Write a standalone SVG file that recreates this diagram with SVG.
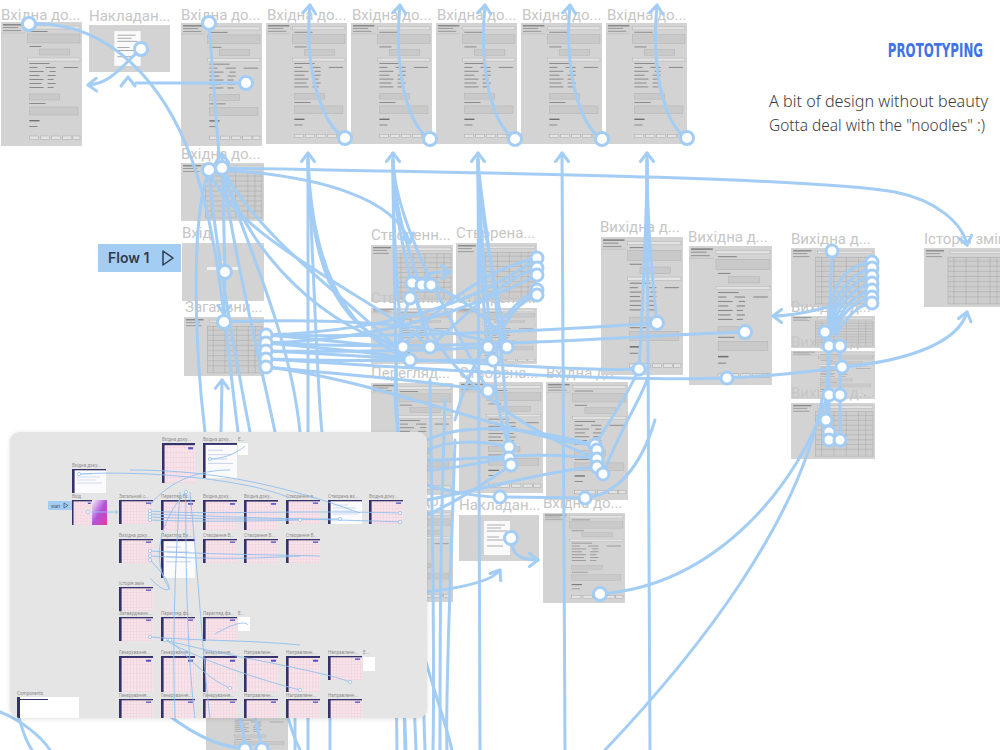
<svg xmlns="http://www.w3.org/2000/svg" xmlns:xlink="http://www.w3.org/1999/xlink" width="1000" height="750" viewBox="0 0 1000 750">
<style>
.t{font-family:"Roboto","Liberation Sans",sans-serif;font-size:15px;fill:#c6c6c6}
.mt{font-family:"Roboto","Liberation Sans",sans-serif;font-size:4.6px;fill:#8f8f8f}
.c{fill:none;stroke:#a3cdf4;stroke-width:3;stroke-linecap:round}
.dot{fill:#fff;stroke:#a3cdf4;stroke-width:3}
.mc{fill:none;stroke:#8fc0ef;stroke-width:0.9}
.bx{fill:#c9c9c9;stroke:#adadad;stroke-width:0.4}
.ln{fill:#8a8a8a}
</style>
<defs>
<marker id="ar" viewBox="0 0 12 16" refX="10" refY="8" markerWidth="12" markerHeight="16" markerUnits="userSpaceOnUse" orient="auto">
<path d="M1.5,1.5 L10,8 L1.5,14.5" fill="none" stroke="#a3cdf4" stroke-width="3" stroke-linecap="round" stroke-linejoin="round"/>
</marker>
<marker id="mar" viewBox="0 0 6 6" refX="5" refY="3" markerWidth="4" markerHeight="4" markerUnits="userSpaceOnUse" orient="auto">
<path d="M0.5,0.5 L5,3 L0.5,5.5" fill="none" stroke="#8fc0ef" stroke-width="1"/>
</marker>
<symbol id="form" viewBox="0 0 80 124" preserveAspectRatio="none">
<rect width="80" height="124" fill="#d3d3d3"/>
<rect x="2" y="2" width="21" height="1.6" class="ln"/>
<rect x="2" y="5" width="15" height="1.1" fill="#9b9b9b"/>
<rect x="2" y="8" width="18" height="1.1" fill="#9b9b9b"/>
<line x1="0" y1="11" x2="24" y2="11" stroke="#bcbcbc" stroke-width="0.6"/>
<rect x="26" y="4" width="52" height="3" fill="#e3e3e3" stroke="#aaa" stroke-width="0.4"/>
<rect x="28" y="9" width="18" height="1" class="ln"/>
<rect x="26" y="12" width="52" height="9" class="bx"/>
<rect x="28" y="24" width="12" height="1" class="ln"/>
<rect x="38" y="27" width="30" height="6" class="bx"/>
<rect x="26" y="36" width="52" height="3" fill="#e3e3e3" stroke="#aaa" stroke-width="0.4"/>
<rect x="28" y="41" width="20" height="1" class="ln"/>
<rect x="28" y="45" width="8" height="1" class="ln"/><rect x="44" y="45" width="10" height="1" class="ln"/><rect x="62" y="45" width="14" height="1" class="ln"/>
<rect x="28" y="49" width="14" height="1" class="ln"/><rect x="48" y="49" width="6" height="1" class="ln"/>
<rect x="28" y="53" width="10" height="1" class="ln"/><rect x="46" y="53" width="8" height="1" class="ln"/>
<rect x="28" y="57" width="14" height="1" class="ln"/><rect x="46" y="57" width="6" height="1" class="ln"/>
<rect x="28" y="61" width="12" height="1" class="ln"/><rect x="46" y="61" width="8" height="1" class="ln"/>
<rect x="28" y="65" width="14" height="1" class="ln"/><rect x="46" y="65" width="6" height="1" class="ln"/>
<rect x="28" y="72" width="30" height="6" class="bx"/>
<rect x="28" y="81" width="16" height="1" class="ln"/>
<rect x="28" y="85" width="48" height="8" class="bx"/>
<rect x="28" y="98" width="10" height="1.4" fill="#707070"/>
<rect x="28" y="104" width="8" height="1" class="ln"/>
<rect x="28" y="114" width="9" height="3.5" fill="#e3e3e3" stroke="#999" stroke-width="0.4"/>
<rect x="39" y="114" width="9" height="3.5" fill="#e3e3e3" stroke="#999" stroke-width="0.4"/>
<rect x="50" y="114" width="9" height="3.5" fill="#e3e3e3" stroke="#999" stroke-width="0.4"/>
<rect x="61" y="114" width="9" height="3.5" fill="#e3e3e3" stroke="#999" stroke-width="0.4"/>
<rect x="71" y="114" width="7" height="3.5" fill="#e3e3e3" stroke="#999" stroke-width="0.4"/>
</symbol>
<symbol id="tbl" viewBox="0 0 82 58" preserveAspectRatio="none">
<rect width="82" height="58" fill="#d3d3d3"/>
<rect x="2" y="2" width="18" height="1.4" class="ln"/>
<rect x="2" y="5" width="14" height="1" fill="#9b9b9b"/>
<rect x="2" y="8" width="16" height="1" fill="#9b9b9b"/>
<rect x="26" y="3" width="54" height="2.5" fill="#e3e3e3" stroke="#aaa" stroke-width="0.4"/>
<rect x="24" y="9" width="56" height="46" fill="#cdcdcd" stroke="#9e9e9e" stroke-width="0.4"/>
<path d="M24,13 H80 M24,18 H80 M24,23 H80 M24,28 H80 M24,33 H80 M24,38 H80 M24,43 H80 M24,48 H80 M30,9 V55 M42,9 V55 M54,9 V55 M66,9 V55 M73,9 V55" stroke="#9e9e9e" stroke-width="0.4" fill="none"/>
</symbol>
<symbol id="doc" viewBox="0 0 80 46" preserveAspectRatio="none">
<rect width="80" height="46" fill="#d3d3d3"/>
<rect x="25" y="6" width="26" height="34" fill="#fafafa"/>
<path d="M28,10 H46 M28,13 H42 M28,16 H48 M28,22 H40 M28,25 H47 M28,31 H44" stroke="#8a8a8a" stroke-width="0.7"/>
</symbol>
<pattern id="grid" width="3" height="3" patternUnits="userSpaceOnUse">
<rect width="3" height="3" fill="#f7e4ea"/>
<path d="M3,0 V3 M0,3 H3" stroke="#e8b7c7" stroke-width="0.4"/>
</pattern>
<symbol id="mf" viewBox="0 0 34 24" preserveAspectRatio="none">
<rect width="34" height="24" fill="url(#grid)"/>
<rect width="34" height="1.3" fill="#34306a"/>
<rect width="2.6" height="24" fill="#34306a"/>
<rect x="27" y="2.5" width="5" height="1.3" fill="#4a52c9"/>
</symbol>
<symbol id="mw" viewBox="0 0 34 24" preserveAspectRatio="none">
<rect width="34" height="24" fill="#fbfbfd"/>
<rect width="34" height="1.3" fill="#34306a"/>
<rect width="2.6" height="24" fill="#34306a"/>
<path d="M5,5 H20 M5,8 H28 M5,11 H24 M5,14 H30" stroke="#b9c6e6" stroke-width="0.6"/>
</symbol>
<linearGradient id="mag" x1="0" y1="0" x2="1" y2="1">
<stop offset="0" stop-color="#f5f0fb"/><stop offset="0.5" stop-color="#b055d8"/><stop offset="1" stop-color="#e63aa0"/>
</linearGradient>
<clipPath id="insetClip"><rect x="10" y="432" width="417" height="286" rx="9"/></clipPath>
<clipPath id="rightOfInset"><rect x="427" y="490" width="60" height="30"/></clipPath>
<filter id="sh" x="-5%" y="-5%" width="110%" height="110%"><feDropShadow dx="0" dy="1" stdDeviation="2" flood-color="#000" flood-opacity="0.12"/></filter>
</defs>
<rect width="1000" height="750" fill="#ffffff"/>

<g id="frames">
<g id="n1"><text class="t" x="1" y="20">Вхідна до...</text><use href="#form" x="1" y="22" width="81" height="124"/></g>
<g id="n2"><text class="t" x="89" y="21">Накладан...</text><use href="#doc" x="89" y="25" width="81" height="47"/></g>
<g id="n3"><text class="t" x="181" y="20">Вхідна до...</text><use href="#form" x="181" y="23" width="81" height="123"/></g>
<g id="n4"><text class="t" x="267" y="20">Вхідна до...</text><use href="#form" x="266" y="23" width="81" height="121"/></g>
<g id="n5"><text class="t" x="352" y="20">Вхідна до...</text><use href="#form" x="351" y="23" width="81" height="121"/></g>
<g id="n6"><text class="t" x="437" y="20">Вхідна до...</text><use href="#form" x="436" y="23" width="81" height="121"/></g>
<g id="n7"><text class="t" x="522" y="20">Вхідна до...</text><use href="#form" x="521" y="23" width="81" height="121"/></g>
<g id="n8"><text class="t" x="607" y="20">Вхідна до...</text><use href="#form" x="606" y="23" width="81" height="121"/></g>
<g id="n9"><text class="t" x="181" y="159">Вхідна до...</text><use href="#tbl" x="181" y="163" width="83" height="58"/></g>
<g id="n10"><text class="t" x="182" y="238">Вхід</text><rect x="182" y="243" width="82" height="58" fill="#d3d3d3"/><rect x="207" y="267" width="32" height="3" fill="#f2f2f2"/><rect x="220" y="261" width="6" height="1.5" fill="#eee"/><rect x="218" y="274" width="10" height="1.5" fill="#eee"/></g>
<g id="flow1"><rect x="98" y="244" width="83" height="28" fill="#a4cdf4"/><text x="108" y="263" font-family="Inter,'Liberation Sans',sans-serif" font-size="14" font-weight="600" fill="#2f3b4e">Flow 1</text><path d="M163,251 L173,258 L163,265 Z" fill="none" stroke="#2f3b4e" stroke-width="1.5" stroke-linejoin="round"/></g>
<g id="n11"><text class="t" x="185" y="312">Загальни...</text><use href="#tbl" x="184" y="317" width="80" height="59"/></g>
<g id="n12"><text class="t" x="371" y="240">Створенн...</text><use href="#tbl" x="371" y="245" width="82" height="57"/></g>
<g id="n13"><text class="t" x="456" y="238">Створена...</text><use href="#tbl" x="456" y="243" width="81" height="59"/></g>
<g id="n14"><text class="t" x="371" y="303">Створенн...</text><use href="#form" x="371" y="308" width="82" height="56"/></g>
<g id="n15"><text class="t" x="456" y="303">Створенн...</text><use href="#form" x="456" y="308" width="81" height="56"/></g>
<g id="n16"><text class="t" x="371" y="378">Перегляд...</text><use href="#form" x="371" y="383" width="82" height="112"/></g>
<g id="n17"><text class="t" x="371" y="506" clip-path="url(#rightOfInset)">Вхідна до...</text><use href="#form" x="371" y="510" width="82" height="92"/></g>
<g id="n18"><text class="t" x="459" y="378">Створена...</text><use href="#form" x="459" y="382" width="84" height="111"/></g>
<g id="n19"><text class="t" x="546" y="378">Вхідна до...</text><use href="#form" x="546" y="382" width="82" height="118"/></g>
<g id="n20"><text class="t" x="459" y="510">Накладан...</text><use href="#doc" x="459" y="515" width="80" height="46"/></g>
<g id="n21"><text class="t" x="543" y="508">Вхідна до...</text><use href="#form" x="543" y="513" width="82" height="90"/></g>
<g id="n22"><text class="t" x="600" y="232">Вихідна д...</text><use href="#form" x="601" y="237" width="82" height="138"/></g>
<g id="n23"><text class="t" x="688" y="242">Вихідна д...</text><use href="#form" x="689" y="246" width="83" height="139"/></g>
<g id="n24"><text class="t" x="791" y="244">Вихідна д...</text><use href="#tbl" x="791" y="248" width="84" height="59"/></g>
<g id="n25"><text class="t" x="791" y="312">Вихідна д...</text><use href="#tbl" x="791" y="316" width="84" height="32"/></g>
<g id="n26"><text class="t" x="791" y="347">Вихідна д...</text><use href="#form" x="791" y="351" width="84" height="48"/></g>
<g id="n27"><text class="t" x="791" y="398">Вихідна д...</text><use href="#tbl" x="791" y="403" width="84" height="56"/></g>
<g id="n28"><text class="t" x="924" y="244">Історія змін</text><use href="#tbl" x="924" y="248" width="82" height="59"/></g>
<g id="n29"><use href="#form" x="206" y="700" width="82" height="60"/></g>
</g>

<g id="connectors">
<path class="c" d="M29,24 C110,20 165,85 192,160 S225,330 238,432"/>
<path class="c" d="M141,49 C125,62 112,84 88,85" marker-end="url(#ar)"/>
<path class="c" d="M246,83 L136,83"/>
<path class="c" d="M121,86 L128,77 L135,86" stroke-linejoin="round"/>
<path class="c" d="M209,23 L219,156"/>
<path class="c" d="M345,138 C322,125 304,70 310,5" marker-end="url(#ar)"/>
<path class="c" d="M430,139 C407,125 394,70 400,5" marker-end="url(#ar)"/>
<path class="c" d="M515,139 C492,125 479,70 485,5" marker-end="url(#ar)"/>
<path class="c" d="M602,139 C579,125 564,70 570,5" marker-end="url(#ar)"/>
<path class="c" d="M687,138 C664,125 651,70 657,5" marker-end="url(#ar)"/>
<path class="c" d="M308,750 L308,153" marker-end="url(#ar)"/>
<path class="c" d="M308,160 C310,250 330,330 403,347"/>
<path class="c" d="M308,160 C312,260 340,330 410,360"/>
<path class="c" d="M308,160 C315,300 318,400 322,432"/>
<path class="c" d="M405,750 C400,500 393,300 393,153" marker-end="url(#ar)"/>
<path class="c" d="M420,285 C405,240 393,200 393,160"/>
<path class="c" d="M403,347 C395,280 393,200 393,160"/>
<path class="c" d="M430,347 C400,250 393,200 393,160"/>
<path class="c" d="M488,391 C440,300 395,220 393,160"/>
<path class="c" d="M480,750 C480,500 478,300 478,153" marker-end="url(#ar)"/>
<path class="c" d="M488,347 C480,280 478,200 478,160"/>
<path class="c" d="M507,347 C490,260 478,200 478,160"/>
<path class="c" d="M493,360 C485,280 478,200 478,160"/>
<path class="c" d="M509,447 C500,300 480,200 478,160"/>
<path class="c" d="M565,750 L562,153" marker-end="url(#ar)"/>
<path class="c" d="M650,750 C649,500 647,300 647,153" marker-end="url(#ar)"/>
<path class="c" d="M657,323 C650,260 647,200 647,160"/>
<path class="c" d="M639,369 C645,260 647,200 647,160"/>
<path class="c" d="M222,168 C420,172 800,176 895,192 C935,200 962,222 967,245" marker-end="url(#ar)"/>
<path class="c" d="M222,170 C320,176 395,198 410,243" marker-end="url(#ar)"/>
<path class="c" d="M225,272 L222,154" marker-end="url(#ar)"/>
<path class="c" d="M225,272 L224,314" marker-end="url(#ar)"/>
<path class="c" d="M221,432 L222,380" marker-end="url(#ar)"/>
<path class="c" d="M209,170 C215,250 240,380 250,432"/>
<path class="c" d="M222,168 C250,260 330,330 403,347"/>
<path class="c" d="M222,168 C260,240 350,300 410,360"/>
<path class="c" d="M209,170 C235,240 380,300 430,347"/>
<path class="c" d="M222,168 C240,230 290,330 300,432"/>
<path class="c" d="M209,170 C190,220 195,350 205,432"/>
<path class="c" d="M222,168 C235,260 260,360 275,432"/>
<path class="c" d="M266,335 C400,338 560,330 657,323"/>
<path class="c" d="M266,343 C450,352 620,336 745,332"/>
<path class="c" d="M266,351 C420,358 560,372 639,369"/>
<path class="c" d="M266,359 C420,368 600,382 727,378"/>
<path class="c" d="M266,367 C380,380 520,440 595,445"/>
<path class="c" d="M266,335 C330,340 380,347 403,347"/>
<path class="c" d="M266,343 C340,350 400,355 410,360"/>
<path class="c" d="M266,351 C350,352 440,350 488,347"/>
<path class="c" d="M266,359 C360,362 450,360 493,360"/>
<path class="c" d="M266,367 C350,375 420,380 488,391"/>
<path class="c" d="M224,322 C330,318 430,322 507,347"/>
<path class="c" d="M266,335 C400,330 480,300 537,258"/>
<path class="c" d="M266,343 C380,340 470,310 537,275"/>
<path class="c" d="M537,268 C500,280 460,320 430,347"/>
<path class="c" d="M537,290 C505,305 470,360 455,420"/>
<path class="c" d="M537,295 C500,310 480,360 509,447"/>
<path class="c" d="M537,258 C500,265 440,300 403,347"/>
<path class="c" d="M422,285 C425,270 438,272 450,272" marker-end="url(#ar)"/>
<path class="c" d="M410,298 C395,340 392,390 398,432"/>
<path class="c" d="M431,285 C470,300 500,330 507,347"/>
<path class="c" d="M412,283 C420,320 450,400 597,459"/>
<path class="c" d="M727,378 C770,376 810,372 842,367"/>
<path class="c" d="M842,367 C900,362 958,345 967,312" marker-end="url(#ar)"/>
<path class="c" d="M832,251 L826,420"/>
<path class="c" d="M829,346 L829,440"/>
<path class="c" d="M840,346 L840,440"/>
<path class="c" d="M600,594 C720,585 800,480 826,400"/>
<path class="c" d="M605,750 C700,650 800,520 822,400"/>
<path class="c" d="M872,262 C845,265 832,285 828,320"/>
<path class="c" d="M872,268 C848,275 834,295 830,325"/>
<path class="c" d="M872,275 C850,282 836,300 831,328"/>
<path class="c" d="M872,283 C852,288 838,305 832,330"/>
<path class="c" d="M872,290 C854,294 840,310 833,332"/>
<path class="c" d="M872,297 C856,300 842,312 834,334"/>
<path class="c" d="M872,303 C858,305 845,318 836,336"/>
<path class="c" d="M835,305 C810,312 790,316 773,316" marker-end="url(#ar)"/>
<path class="c" d="M500,497 L585,498"/>
<path class="c" d="M427,485 C450,492 480,497 500,497"/>
<path class="c" d="M585,498 C615,495 640,470 655,420"/>
<path class="c" d="M511,538 C511,556 522,560 538,560" marker-end="url(#ar)"/>
<path class="c" d="M427,592 C460,588 492,582 500,570" marker-end="url(#ar)"/>
<path class="c" d="M509,447 C480,440 450,440 427,450"/>
<path class="c" d="M509,458 C480,462 450,470 427,470"/>
<path class="c" d="M511,465 C490,480 460,500 427,515"/>
<path class="c" d="M595,445 C540,430 470,420 427,440"/>
<path class="c" d="M597,459 C540,450 480,460 427,460"/>
<path class="c" d="M597,467 C550,470 480,490 427,500"/>
<path class="c" d="M603,474 C620,430 640,400 647,380"/>
<path class="c" d="M595,445 C610,420 625,400 639,369"/>
<path class="c" d="M430,380 C432,500 435,650 433,750"/>
<path class="c" d="M445,400 C440,550 440,650 440,750"/>
<path class="c" d="M455,440 C450,600 445,700 447,750"/>
<path class="c" d="M420,600 L425,750"/>
<path class="c" d="M410,600 L416,750"/>
<path class="c" d="M400,600 L406,750"/>
<path class="c" d="M395,600 L397,750"/>
<path class="c" d="M420,640 C430,680 445,720 452,750"/>
<path class="c" d="M330,600 L330,750"/>
<path class="c" d="M295,600 L295,750"/>
<path class="c" d="M270,600 C280,700 290,730 300,750"/>
<path class="c" d="M150,700 C190,735 220,748 245,748"/>
<path class="c" d="M235,690 C240,720 245,740 245,748"/>
<path class="c" d="M250,690 C255,720 260,740 262,748"/>
<path class="c" d="M15,700 C20,725 25,740 32,750"/>
<path class="c" d="M0,712 C20,720 40,735 50,750"/>
<g id="dots">
<circle class="dot" cx="29" cy="24" r="6.5"/><circle class="dot" cx="141" cy="49" r="6.5"/><circle class="dot" cx="209" cy="23" r="6.5"/><circle class="dot" cx="246" cy="83" r="6.5"/>
<circle class="dot" cx="345" cy="138" r="6.5"/><circle class="dot" cx="430" cy="139" r="6.5"/><circle class="dot" cx="515" cy="139" r="6.5"/><circle class="dot" cx="602" cy="139" r="6.5"/><circle class="dot" cx="687" cy="138" r="6.5"/>
<circle class="dot" cx="209" cy="170" r="6.5"/><circle class="dot" cx="222" cy="168" r="6.5"/><circle class="dot" cx="225" cy="272" r="6.5"/><circle class="dot" cx="224" cy="322" r="6.5"/>
<circle class="dot" cx="266" cy="335" r="6"/><circle class="dot" cx="266" cy="343" r="6"/><circle class="dot" cx="266" cy="351" r="6"/><circle class="dot" cx="266" cy="359" r="6"/><circle class="dot" cx="266" cy="367" r="6"/>
<circle class="dot" cx="412" cy="283" r="6"/><circle class="dot" cx="422" cy="285" r="6"/><circle class="dot" cx="431" cy="285" r="6"/><circle class="dot" cx="410" cy="298" r="6"/>
<circle class="dot" cx="537" cy="258" r="6"/><circle class="dot" cx="537" cy="268" r="6"/><circle class="dot" cx="537" cy="275" r="6"/><circle class="dot" cx="537" cy="290" r="6"/><circle class="dot" cx="537" cy="295" r="6"/>
<circle class="dot" cx="403" cy="347" r="6"/><circle class="dot" cx="430" cy="347" r="6"/><circle class="dot" cx="410" cy="360" r="6"/><circle class="dot" cx="488" cy="347" r="6"/><circle class="dot" cx="507" cy="347" r="6"/><circle class="dot" cx="493" cy="360" r="6"/><circle class="dot" cx="488" cy="391" r="6"/>
<circle class="dot" cx="657" cy="323" r="6.5"/><circle class="dot" cx="745" cy="332" r="6.5"/><circle class="dot" cx="639" cy="369" r="6"/><circle class="dot" cx="727" cy="378" r="6"/>
<circle class="dot" cx="832" cy="251" r="6"/>
<circle class="dot" cx="872" cy="262" r="6"/><circle class="dot" cx="872" cy="268" r="6"/><circle class="dot" cx="872" cy="276" r="6"/><circle class="dot" cx="872" cy="283" r="6"/><circle class="dot" cx="872" cy="290" r="6"/><circle class="dot" cx="872" cy="297" r="6"/><circle class="dot" cx="872" cy="303" r="6"/>
<circle class="dot" cx="825" cy="332" r="6"/><circle class="dot" cx="829" cy="346" r="6"/><circle class="dot" cx="840" cy="346" r="6"/><circle class="dot" cx="842" cy="367" r="6"/><circle class="dot" cx="829" cy="395" r="6"/><circle class="dot" cx="840" cy="395" r="6"/><circle class="dot" cx="826" cy="420" r="6"/><circle class="dot" cx="829" cy="432" r="6"/><circle class="dot" cx="829" cy="440" r="6"/><circle class="dot" cx="840" cy="440" r="6"/>
<circle class="dot" cx="509" cy="447" r="6"/><circle class="dot" cx="509" cy="458" r="6"/><circle class="dot" cx="511" cy="465" r="6"/><circle class="dot" cx="500" cy="497" r="6"/>
<circle class="dot" cx="595" cy="445" r="6"/><circle class="dot" cx="597" cy="450" r="6"/><circle class="dot" cx="597" cy="459" r="6"/><circle class="dot" cx="597" cy="467" r="6"/><circle class="dot" cx="603" cy="474" r="6"/><circle class="dot" cx="585" cy="498" r="6"/>
<circle class="dot" cx="511" cy="538" r="6.5"/><circle class="dot" cx="600" cy="594" r="6.5"/>
<circle class="dot" cx="245" cy="749" r="6"/><circle class="dot" cx="262" cy="749" r="6"/>
</g>
</g>

<g id="inset">
<rect x="10" y="432" width="417" height="286" rx="9" fill="#e5e5e5" filter="url(#sh)"/>
<g clip-path="url(#insetClip)">
<text class="mt" x="162" y="441">Вхідна доку...</text><use href="#mf" x="162" y="443" width="33" height="40"/>
<text class="mt" x="203" y="441">Вхідна доку...</text><use href="#mw" x="203" y="443" width="34" height="35"/>
<text class="mt" x="238" y="441">Е...</text><rect x="238" y="443" width="10" height="12" fill="#fff"/>
<text class="mt" x="72" y="467">Вхідна доку...</text><use href="#mw" x="72" y="469" width="34" height="24"/>
<text class="mt" x="72" y="498">Вхід</text><use href="#mf" x="72" y="500" width="20" height="25"/><rect x="92" y="500" width="15" height="25" fill="url(#mag)"/>
<rect x="48" y="501" width="24" height="9" fill="#a4cdf4"/><text x="51" y="507.5" font-family="Inter,'Liberation Sans',sans-serif" font-size="4" fill="#2f3b4e">Start</text><path d="M64,503 L68,505.5 L64,508 Z" fill="none" stroke="#2f3b4e" stroke-width="0.6"/>
<text class="mt" x="119" y="498">Загальний с...</text><use href="#mf" x="119" y="500" width="34" height="24"/>
<text class="mt" x="161" y="498">Перегляд Вх...</text><use href="#mf" x="161" y="500" width="34" height="30"/>
<text class="mt" x="203" y="498">Вхідна доку...</text><use href="#mf" x="203" y="500" width="34" height="30"/>
<text class="mt" x="244" y="498">Вхідна доку...</text><use href="#mf" x="244" y="500" width="34" height="30"/>
<text class="mt" x="286" y="498">Створення в...</text><use href="#mf" x="286" y="500" width="34" height="24"/>
<text class="mt" x="328" y="498">Створена вх...</text><use href="#mw" x="328" y="500" width="34" height="24"/>
<text class="mt" x="369" y="498">Вхідна доку...</text><use href="#mf" x="369" y="500" width="34" height="24"/>
<text class="mt" x="119" y="537">Вихідна доку...</text><use href="#mf" x="119" y="539" width="34" height="24"/>
<text class="mt" x="161" y="537">Перегляд Ви...</text><use href="#mw" x="161" y="539" width="34" height="39"/>
<text class="mt" x="203" y="537">Створення В...</text><use href="#mf" x="203" y="539" width="34" height="24"/>
<text class="mt" x="244" y="537">Створення В...</text><use href="#mf" x="244" y="539" width="34" height="24"/>
<text class="mt" x="286" y="537">Створення В...</text><use href="#mf" x="286" y="539" width="34" height="24"/>
<text class="mt" x="119" y="585">Історія змін</text><use href="#mf" x="119" y="587" width="34" height="24"/>
<text class="mt" x="119" y="615">Затвердженн...</text><use href="#mf" x="119" y="617" width="34" height="24"/>
<text class="mt" x="161" y="615">Перегляд фа...</text><use href="#mf" x="161" y="617" width="34" height="24"/>
<text class="mt" x="203" y="615">Перегляд фа...</text><use href="#mf" x="203" y="617" width="34" height="24"/>
<text class="mt" x="238" y="615">Е...</text><rect x="238" y="617" width="12" height="14" fill="#fff"/>
<text class="mt" x="119" y="654">Генерування...</text><use href="#mf" x="119" y="656" width="34" height="36"/>
<text class="mt" x="161" y="654">Генерування...</text><use href="#mf" x="161" y="656" width="34" height="36"/>
<text class="mt" x="203" y="654">Генерування...</text><use href="#mf" x="203" y="656" width="34" height="36"/>
<text class="mt" x="244" y="654">Направленн...</text><use href="#mf" x="244" y="656" width="34" height="36"/>
<text class="mt" x="286" y="654">Направленн...</text><use href="#mf" x="286" y="656" width="34" height="36"/>
<text class="mt" x="328" y="654">Направленн...</text><use href="#mf" x="328" y="656" width="34" height="24"/>
<text class="mt" x="363" y="654">Е...</text><rect x="363" y="657" width="12" height="14" fill="#fff"/>
<text class="mt" x="119" y="697">Генерування...</text><use href="#mf" x="119" y="699" width="34" height="24"/>
<text class="mt" x="161" y="697">Генерування...</text><use href="#mf" x="161" y="699" width="34" height="24"/>
<text class="mt" x="203" y="697">Генерування...</text><use href="#mf" x="203" y="699" width="34" height="24"/>
<text class="mt" x="244" y="697">Направленн...</text><use href="#mf" x="244" y="699" width="34" height="24"/>
<text class="mt" x="286" y="697">Направленн...</text><use href="#mf" x="286" y="699" width="34" height="24"/>
<text class="mt" x="328" y="697">Направленн...</text><use href="#mf" x="328" y="699" width="34" height="24"/>
<text class="mt" x="17" y="695">Components</text>
<rect x="17" y="697" width="62" height="22" fill="#fff"/><rect x="17" y="697" width="3" height="22" fill="#34306a"/><rect x="20" y="699" width="28" height="1" fill="#34306a"/>
<g id="inset-connectors">
<path class="mc" d="M79,474 C150,470 250,480 290,498"/>
<path class="mc" d="M92,512 L118,512" marker-end="url(#mar)"/>
<path class="mc" d="M150,511 C200,515 300,510 400,513"/>
<path class="mc" d="M150,514 C250,518 350,520 400,522"/>
<path class="mc" d="M150,517 C220,520 300,519 340,519"/>
<path class="mc" d="M150,520 C200,522 260,521 300,520"/>
<path class="mc" d="M186,492 C160,520 150,560 170,590"/>
<path class="mc" d="M180,492 C175,560 172,650 175,718"/>
<path class="mc" d="M186,492 C185,600 190,680 195,718"/>
<path class="mc" d="M190,492 C200,600 205,680 210,718"/>
<path class="mc" d="M150,551 C220,555 300,555 320,556"/>
<path class="mc" d="M150,556 C220,560 260,558 300,556"/>
<path class="mc" d="M150,560 C180,590 170,600 150,578"/>
<path class="mc" d="M150,637 C200,641 250,640 300,645"/>
<path class="mc" d="M165,640 C200,660 260,680 300,690"/>
<path class="mc" d="M165,640 C220,655 320,670 350,682"/>
<path class="mc" d="M170,640 C190,660 210,680 230,688"/>
<path class="mc" d="M210,459 C230,458 240,450 245,446"/>
<path class="mc" d="M130,470 C200,470 270,480 360,513"/>
<path class="mc" d="M150,505 C170,480 200,470 230,470"/>
<path class="mc" d="M215,634 C230,625 245,620 248,625"/>
<g fill="#fff" stroke="#8fc0ef" stroke-width="0.8">
<circle cx="79" cy="474" r="1.6"/><circle cx="88" cy="512" r="1.6"/><circle cx="150" cy="511" r="1.6"/><circle cx="150" cy="514" r="1.6"/><circle cx="150" cy="517" r="1.6"/><circle cx="150" cy="520" r="1.6"/><circle cx="186" cy="492" r="1.6"/><circle cx="210" cy="459" r="1.6"/>
<circle cx="150" cy="551" r="1.6"/><circle cx="150" cy="556" r="1.6"/><circle cx="150" cy="560" r="1.6"/><circle cx="150" cy="637" r="1.6"/><circle cx="165" cy="640" r="1.6"/><circle cx="170" cy="640" r="1.6"/>
<circle cx="300" cy="520" r="1.6"/><circle cx="340" cy="519" r="1.6"/><circle cx="400" cy="513" r="1.6"/><circle cx="400" cy="522" r="1.6"/><circle cx="300" cy="690" r="1.6"/><circle cx="350" cy="682" r="1.6"/><circle cx="230" cy="688" r="1.6"/>
</g>
</g>
</g>
</g>

<g id="notes">
<text transform="translate(983,57) scale(0.67,1)" x="0" y="0" text-anchor="end" font-family="'DejaVu Sans Condensed','Liberation Sans Narrow','Liberation Sans',sans-serif" font-size="19" font-weight="bold" fill="#4172e6" textLength="142" lengthAdjust="spacingAndGlyphs">PROTOTYPING</text>
<text x="769" y="107" font-family="'Noto Sans','Liberation Sans',sans-serif" font-size="16" font-weight="300" fill="#3c3c3c" textLength="219" lengthAdjust="spacingAndGlyphs">A bit of design without beauty</text>
<text x="769" y="131" font-family="'Noto Sans','Liberation Sans',sans-serif" font-size="16" font-weight="300" fill="#3c3c3c" textLength="216" lengthAdjust="spacingAndGlyphs">Gotta deal with the "noodles" :)</text>
</g>
</svg>
